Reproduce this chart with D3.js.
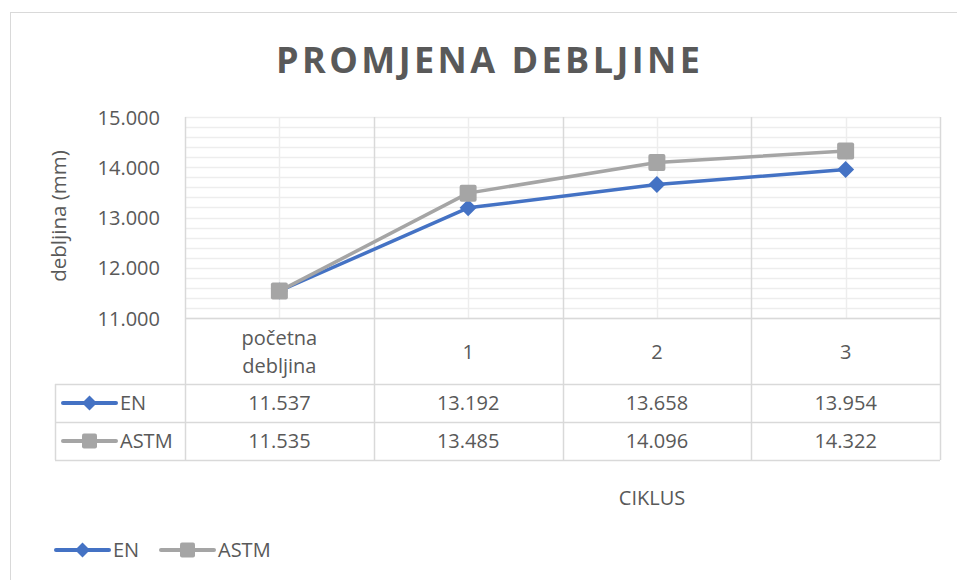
<!DOCTYPE html>
<html>
<head>
<meta charset="utf-8">
<script src="https://cdn.jsdelivr.net/npm/d3@7"></script>
<style>
  body { margin: 0; background: #fff; }
  text { font-family: "Open Sans", sans-serif; fill: #595959; }
</style>
</head>
<body>
<svg id="chart" width="957" height="580"></svg>
<script>
// Promjena debljine - EN vs ASTM per cycle

var categories = ["početna debljina", "1", "2", "3"];
var categoryLines = [["početna", "debljina"], ["1"], ["2"], ["3"]];
var enValues = [11.537, 13.192, 13.658, 13.954];
var astmValues = [11.535, 13.485, 14.096, 14.322];
var yTicks = [11, 12, 13, 14, 15];

var series = [
    {name: "EN", values: enValues, color: "#4472C4", marker: "diamond"},
    {name: "ASTM", values: astmValues, color: "#A5A5A5", marker: "square"}
];

var svg = d3.select("#chart");
var plotLeft = 185, plotRight = 940, plotTop = 117, plotBottom = 318;
var tableLeft = 55, rowH = [66, 38, 38];
var gridMinor = "#ededed", gridMajor = "#d9d9d9";

// outer chart border
svg.append("rect")
        .attr("x", 10.5).attr("y", 12.5)
        .attr("width", 960).attr("height", 600)
        .attr("fill", "none")
        .attr("stroke", gridMajor)
        .attr("stroke-width", 1);

var x = d3.scaleBand()
        .domain(categories)
        .range([plotLeft, plotRight])
        .paddingInner(0).paddingOuter(0);

var y = d3.scaleLinear()
        .domain([11, 15])
        .range([plotBottom, plotTop]);

var cx = (d) => x(d) + x.bandwidth() / 2;

// title
svg.append("text")
        .attr("x", 488).attr("y", 73)
        .attr("text-anchor", "middle")
        .attr("textLength", 424)
        .attr("lengthAdjust", "spacing")
        .style("font-size", "36px")
        .style("font-weight", "bold")
        .text("PROMJENA DEBLJINE");

// horizontal grid, every 0.2
var grid = svg.append("g");
grid.selectAll("line.h")
        .data(d3.range(0, 21).map(i => 11 + i * 0.2))
        .enter().append("line")
                .attr("x1", plotLeft).attr("x2", plotRight)
                .attr("y1", d => Math.round(y(d)) + 0.5)
                .attr("y2", d => Math.round(y(d)) + 0.5)
                .attr("stroke", gridMinor)
                .attr("stroke-width", 1.5);

// vertical lines through category centres
grid.selectAll("line.c")
        .data(categories)
        .enter().append("line")
                .attr("x1", d => Math.round(cx(d)) + 0.5)
                .attr("x2", d => Math.round(cx(d)) + 0.5)
                .attr("y1", plotTop).attr("y2", plotBottom)
                .attr("stroke", gridMinor)
                .attr("stroke-width", 1.5);

// category boundaries, down through the data table
var tableBottom = plotBottom + rowH[0] + rowH[1] + rowH[2];
var bounds = categories.map(d => x(d)).concat([plotRight]);
grid.selectAll("line.b")
        .data(bounds)
        .enter().append("line")
                .attr("x1", d => Math.round(d) + 0.5)
                .attr("x2", d => Math.round(d) + 0.5)
                .attr("y1", plotTop).attr("y2", tableBottom)
                .attr("stroke", gridMajor)
                .attr("stroke-width", 1.5);

// axis line and table rows
var rowYs = [plotBottom, plotBottom + rowH[0], plotBottom + rowH[0] + rowH[1], tableBottom];
rowYs.forEach((ry, i) => {
    svg.append("line")
            .attr("x1", i == 0 ? plotLeft : tableLeft)
            .attr("x2", plotRight)
            .attr("y1", ry + 0.5).attr("y2", ry + 0.5)
            .attr("stroke", gridMajor)
            .attr("stroke-width", 1.5);
});
svg.append("line")
        .attr("x1", tableLeft + 0.5).attr("x2", tableLeft + 0.5)
        .attr("y1", rowYs[1]).attr("y2", tableBottom)
        .attr("stroke", gridMajor)
        .attr("stroke-width", 1.5);

// y axis
var yAxis = svg.append("g")
        .attr("transform", "translate(" + (plotLeft - 22) + ",0)")
        .call(d3.axisLeft(y).tickValues(yTicks).tickFormat(d3.format(".3f")).tickSize(0));
yAxis.select(".domain").remove();
yAxis.selectAll("text")
        .attr("dy", "0.35em")
        .style("font-family", "'Open Sans', sans-serif")
        .style("font-size", "20px")
        .attr("fill", "#595959");

svg.append("text")
        .attr("transform", "translate(66,216) rotate(-90)")
        .attr("text-anchor", "middle")
        .style("font-size", "20.5px")
        .text("debljina (mm)");

// category labels
categoryLines.forEach((lines, i) => {
    var t = svg.append("text")
            .attr("text-anchor", "middle")
            .style("font-size", "20px");
    var startY = lines.length == 1 ? 359 : 345;
    lines.forEach((s, j) => {
        t.append("tspan")
                .attr("x", cx(categories[i]))
                .attr("y", startY + j * 28)
                .text(s);
    });
});

function drawMarker (g, s, px, py, size) {
    if (s.marker == "diamond") {
        g.append("path")
                .attr("d", d3.symbol().type(d3.symbolSquare).size(size * size / 2)())
                .attr("transform", "translate(" + px + "," + py + ") rotate(45)")
                .attr("fill", s.color);
    } else {
        g.append("rect")
                .attr("x", px - size / 2).attr("y", py - size / 2)
                .attr("width", size).attr("height", size)
                .attr("rx", 2)
                .attr("fill", s.color);
    }
}

function drawKey (g, s, x0, ky) {
    g.append("line")
            .attr("x1", x0).attr("x2", x0 + 53)
            .attr("y1", ky).attr("y2", ky)
            .attr("stroke", s.color)
            .attr("stroke-width", 4)
            .attr("stroke-linecap", "round");
    drawMarker(g, s, x0 + 26.5, ky, 15);
}

// table rows
series.forEach((s, i) => {
    var top = rowYs[i + 1], mid = top + rowH[i + 1] / 2;
    var g = svg.append("g");
    drawKey(g, s, 63, mid);
    g.append("text")
            .attr("x", 120).attr("y", mid + 7)
            .style("font-size", "20px")
            .text(s.name);
    g.selectAll("text.v")
            .data(s.values)
            .enter().append("text")
                    .attr("x", (d, k) => cx(categories[k]))
                    .attr("y", mid + 7)
                    .attr("text-anchor", "middle")
                    .style("font-size", "20px")
                    .text(d => d3.format(".3f")(d));
});

// series lines and markers
var line = d3.line()
        .x((d, k) => cx(categories[k]))
        .y(d => y(d));

series.forEach(s => {
    var g = svg.append("g");
    g.append("path")
            .datum(s.values)
            .attr("d", line)
            .attr("fill", "none")
            .attr("stroke", s.color)
            .attr("stroke-width", 3.5)
            .attr("stroke-linejoin", "round");
    s.values.forEach((v, k) => drawMarker(g, s, cx(categories[k]), y(v), 17));
});

// x axis title
svg.append("text")
        .attr("x", 652).attr("y", 505)
        .attr("text-anchor", "middle")
        .style("font-size", "20px")
        .text("CIKLUS");

// bottom legend
var legend = svg.append("g");
drawKey(legend, series[0], 56, 550);
legend.append("text").attr("x", 113).attr("y", 557).style("font-size", "20px").text("EN");
drawKey(legend, series[1], 161, 550);
legend.append("text").attr("x", 218).attr("y", 557).style("font-size", "20px").text("ASTM");
</script>
</body>
</html>
